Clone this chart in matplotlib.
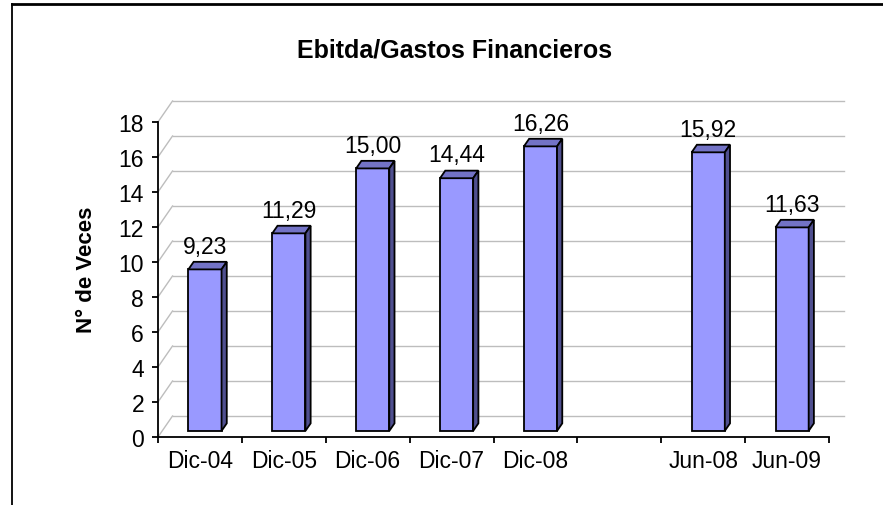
import matplotlib
matplotlib.use('Agg')
from matplotlib import pyplot as plt
from matplotlib.patches import Polygon
from matplotlib.lines import Line2D
import numpy as np

# data
categories = ['Dic-04', 'Dic-05', 'Dic-06', 'Dic-07', 'Dic-08', '', 'Jun-08', 'Jun-09']
values = [9.23, 11.29, 15.00, 14.44, 16.26, None, 15.92, 11.63]
y_ticks = [0, 2, 4, 6, 8, 10, 12, 14, 16, 18]

title = 'Ebitda/Gastos Financieros'
y_label = 'N° de Veces'

plt.rcParams['font.family'] = ['Liberation Sans', 'DejaVu Sans']

W, H = 883, 506
fig = plt.figure(figsize=(W / 100, H / 100), dpi=100)
ax = fig.add_axes([158 / W, 68 / H, 671 / W, 315 / H])
ax.set_xlim(0, len(categories))
ax.set_ylim(0, 18)

# depth of the 3d box, in pixels -> data units
px_x = ax.bbox.width / len(categories)
px_y = ax.bbox.height / 18
depth_x = 14.5 / px_x
depth_y = 21 / px_y

grid_col = '#bdbdbd'
for y in y_ticks:
    # back wall line
    ax.plot([depth_x, len(categories) + depth_x], [y + depth_y, y + depth_y],
            color=grid_col, lw=1, clip_on=False, zorder=1)
    # side wall diagonal
    ax.plot([0, depth_x], [y, y + depth_y], color=grid_col, lw=1, clip_on=False, zorder=1)

# bars
bar_w = 0.395
front = 0.29   # where the bar front sits inside the depth
deep = 0.36    # bar depth as part of the full depth
bx, by = front * depth_x, front * depth_y
dx, dy = deep * depth_x, deep * depth_y

face = '#9999ff'
top_col = '#7373c6'
side_col = '#4f4f8f'
for i, v in enumerate(values):
    if v is None:
        continue
    xc = i + 0.5 + bx + 0.01
    x0, x1 = xc - bar_w / 2, xc + bar_w / 2
    ax.bar(xc, v, width=bar_w, bottom=by, color=face, edgecolor='black', lw=1.3, zorder=3)
    ax.add_patch(Polygon([(x0, v + by), (x1, v + by), (x1 + dx, v + by + dy), (x0 + dx, v + by + dy)],
                         closed=True, facecolor=top_col, edgecolor='black', lw=1.3, zorder=3))
    ax.add_patch(Polygon([(x1, by), (x1 + dx, by + dy), (x1 + dx, v + by + dy), (x1, v + by)],
                         closed=True, facecolor=side_col, edgecolor='black', lw=1.3, zorder=3))
    ax.annotate(f'{v:.2f}'.replace('.', ','), (xc, v + by + dy), xytext=(0, 3),
                textcoords='offset points', ha='center', va='bottom', fontsize=16.5)

# axes
for s in ['top', 'right']:
    ax.spines[s].set_visible(False)
for s in ['left', 'bottom']:
    ax.spines[s].set_linewidth(1.3)
    ax.spines[s].set_zorder(4)
ax.set_yticks(y_ticks)
ax.set_yticklabels([str(t) for t in y_ticks])
ax.set_xticks(np.arange(len(categories) + 1))
ax.set_xticklabels([])
ax.set_xticks(np.arange(len(categories)) + 0.5, minor=True)
ax.set_xticklabels(categories, minor=True)
ax.tick_params(axis='x', which='major', length=4, width=1.3, direction='out')
ax.tick_params(axis='x', which='minor', length=0, pad=9, labelsize=16.5)
ax.tick_params(axis='y', length=4, width=1.3, direction='out', pad=6, labelsize=16.5)
ax.patch.set_visible(False)

fig.text(455 / W, 1 - 51 / H, title, ha='center', va='center', fontsize=18, fontweight='bold')
fig.text(87 / W, 1 - 270 / H, y_label, ha='center', va='center', rotation=90,
         fontsize=16, fontweight='bold')

# outer frame (left and top only)
fig.add_artist(Line2D([11.5 / W, 11.5 / W], [0, 1 - 5 / H], color='black', lw=1.3))
fig.add_artist(Line2D([11.5 / W, 1], [1 - 5 / H, 1 - 5 / H], color='black', lw=2))

fig.savefig('out.png', dpi=100)
